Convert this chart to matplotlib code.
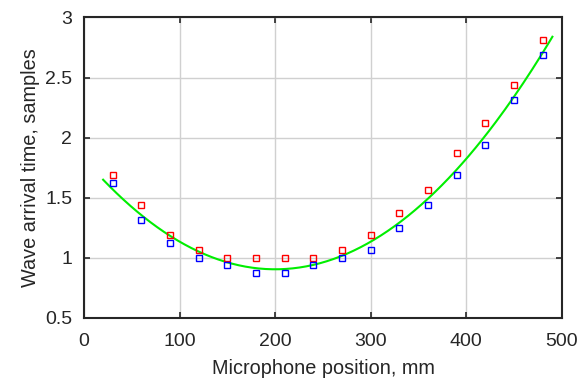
import matplotlib
matplotlib.use("Agg")
import numpy as np
import matplotlib.pyplot as plt

# microphone positions (mm) and measured arrival times (samples)
positions = [30, 60, 90, 120, 150, 180, 210, 240, 270, 300, 330, 360, 390, 420, 450, 480]
times_red = [1.6875, 1.4375, 1.1875, 1.0625, 1.0, 1.0, 1.0, 1.0, 1.0625, 1.1875,
             1.375, 1.5625, 1.875, 2.125, 2.4375, 2.8125]
times_blue = [1.625, 1.3125, 1.125, 1.0, 0.9375, 0.875, 0.875, 0.9375, 1.0, 1.0625,
              1.25, 1.4375, 1.6875, 1.9375, 2.3125, 2.6875]

# fitted curve (quadratic coefficients) and its x range
fit_coeffs = [2.3e-5, -0.0092, 1.825]
fit_range = [20, 490]

xticks = [0, 100, 200, 300, 400, 500]
yticks = [0.5, 1, 1.5, 2, 2.5, 3]
ytick_labels = ["0.5", "1", "1.5", "2", "2.5", "3"]

plt.rcParams["font.family"] = ["Liberation Sans", "DejaVu Sans"]

fig = plt.figure(figsize=(5.85, 3.79), dpi=100)
ax = fig.add_axes([0.1436, 0.161, 0.817, 0.793])

xf = np.linspace(fit_range[0], fit_range[1], 200)
ax.plot(xf, np.polyval(fit_coeffs, xf), color="#00ee00", linewidth=1.5, zorder=2)
ax.plot(positions, times_red, "s", mfc="none", mec="#ff0000", ms=5, mew=1.0, zorder=3)
ax.plot(positions, times_blue, "s", mfc="none", mec="#0000ff", ms=5, mew=1.0, zorder=3)

ax.set_xlim(0, 500)
ax.set_ylim(0.5, 3)
ax.set_xticks(xticks)
ax.set_yticks(yticks)
ax.set_yticklabels(ytick_labels)
ax.grid(True, color="#d0d0d0", linewidth=1.0)
ax.set_axisbelow(True)
ax.tick_params(direction="in", top=True, right=True, length=4, width=1.2,
               color="#262626", labelsize=14, labelcolor="#262626")
ax.tick_params(axis="x", pad=11)
ax.tick_params(axis="y", pad=8.5)
for s in ax.spines.values():
    s.set_linewidth(1.5)
    s.set_color("#262626")

ax.set_xlabel("Microphone position, mm", fontsize=14.3, color="#262626", labelpad=6)
ax.set_ylabel("Wave arrival time, samples", fontsize=14.3, color="#262626", labelpad=4)

fig.savefig("out.png", dpi=100)
